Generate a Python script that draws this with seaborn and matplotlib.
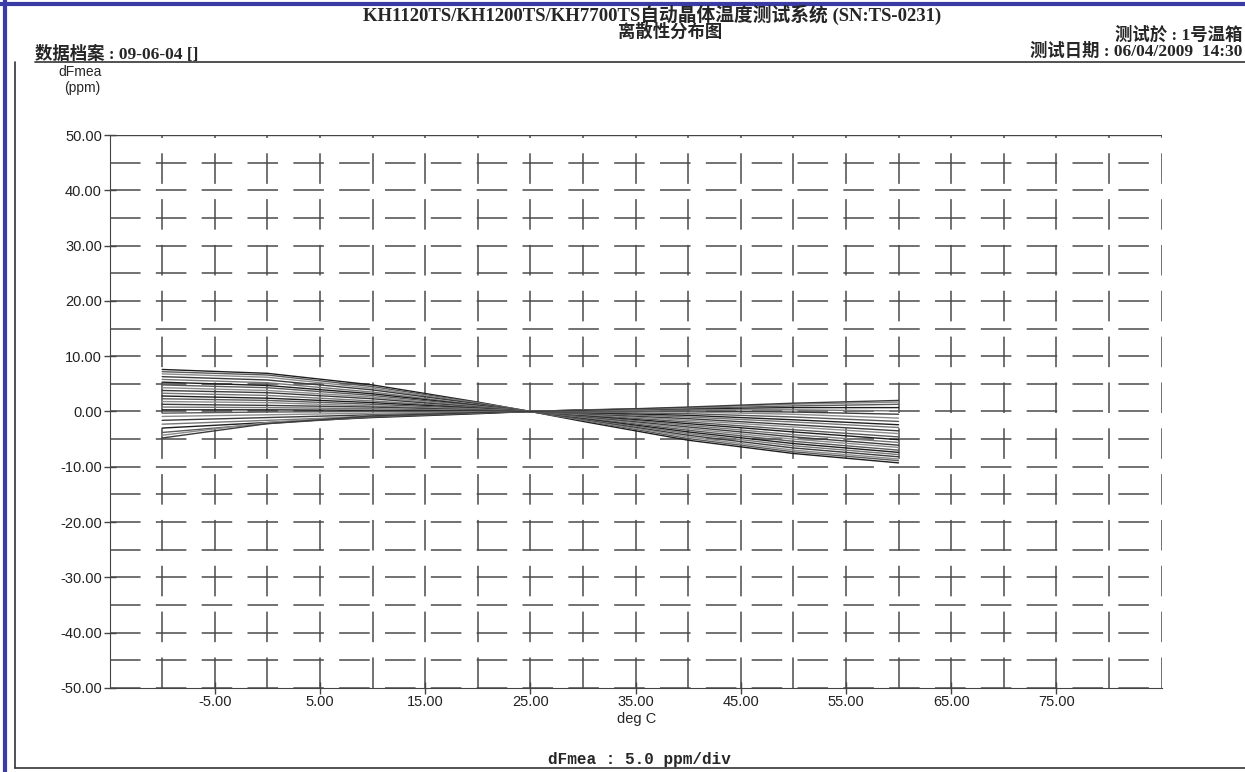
import numpy as np
import pandas as pd
import matplotlib
matplotlib.use('Agg')
import matplotlib.pyplot as plt
from matplotlib.lines import Line2D
import seaborn as sns

# temperature points of each sweep (deg C)
temps = [-10, 0, 10, 20, 25, 30, 40, 50, 60]

# dFmea (ppm) per crystal
curves = [
    [7.6, 6.9, 4.8, 1.7, 0, -1.8, -5.2, -7.6, -9.3],
    [7.2, 6.6, 4.5, 1.6, 0, -1.6, -4.9, -7.3, -8.9],
    [6.8, 6.2, 4.2, 1.5, 0, -1.5, -4.6, -7.0, -8.6],
    [6.3, 5.7, 3.9, 1.4, 0, -1.4, -4.3, -6.6, -8.2],
    [5.8, 5.2, 3.5, 1.2, 0, -1.3, -4.0, -6.2, -7.8],
    [5.3, 4.7, 3.2, 1.1, 0, -1.2, -3.7, -5.8, -7.4],
    [4.8, 4.3, 2.9, 1.0, 0, -1.1, -3.4, -5.4, -7.0],
    [4.3, 3.8, 2.6, 0.9, 0, -1.0, -3.1, -5.0, -6.5],
    [3.8, 3.4, 2.3, 0.8, 0, -0.9, -2.8, -4.6, -6.1],
    [3.3, 2.9, 1.9, 0.7, 0, -0.8, -2.5, -4.2, -5.6],
    [2.8, 2.4, 1.6, 0.6, 0, -0.7, -2.2, -3.7, -5.1],
    [2.3, 2.0, 1.3, 0.5, 0, -0.6, -1.9, -3.3, -4.6],
    [1.8, 1.6, 1.0, 0.4, 0, -0.5, -1.6, -2.8, -4.0],
    [1.3, 1.1, 0.8, 0.3, 0, -0.4, -1.3, -2.4, -3.5],
    [0.8, 0.7, 0.5, 0.2, 0, -0.3, -1.0, -1.9, -2.9],
    [0.3, 0.3, 0.2, 0.1, 0, -0.2, -0.7, -1.5, -2.4],
    [-0.3, -0.1, 0.0, 0.0, 0, -0.1, -0.4, -1.0, -1.8],
    [-0.9, -0.6, -0.3, -0.1, 0, 0.0, -0.1, -0.5, -1.2],
    [-1.6, -1.1, -0.6, -0.2, 0, 0.1, 0.1, -0.1, -0.5],
    [-2.3, -1.6, -0.9, -0.3, 0, 0.2, 0.3, 0.3, 0.1],
    [-3.0, -2.0, -1.1, -0.4, 0, 0.3, 0.5, 0.7, 0.7],
    [-3.8, -2.2, -1.0, -0.3, 0, 0.3, 0.6, 1.0, 1.3],
    [-4.3, -2.0, -0.7, -0.2, 0, 0.2, 0.7, 1.3, 1.7],
    [-4.8, -2.2, -0.8, -0.2, 0, 0.2, 0.8, 1.5, 2.0],
]

x_labels = [-5, 5, 15, 25, 35, 45, 55, 65, 75]
y_labels = [-50, -40, -30, -20, -10, 0, 10, 20, 30, 40, 50]

title1 = 'KH1120TS/KH1200TS/KH7700TS自动晶体温度测试系统 (SN:TS-0231)'
title2 = '离散性分布图'
file_txt = '数据档案 : 09-06-04 []'
oven_txt = '测试於 : 1号温箱'
date_txt = '测试日期 : 06/04/2009  14:30'

rows = []
for i, c in enumerate(curves):
    for t, v in zip(temps, c):
        rows.append({'unit': i, 'temp': t, 'dfmea': v})
df = pd.DataFrame(rows)

sns.set_style('white')
plt.rcParams['font.family'] = ['Liberation Sans', 'Noto Sans CJK SC']

fig = plt.figure(figsize=(12.45, 7.72), dpi=100)
ax = fig.add_axes([0.088, 0.109, 0.845, 0.716])

grays = ['#1e1e1e', '#5a5a5a', '#8c8c8c', '#3c3c3c', '#777777']
pal = [grays[i % len(grays)] for i in range(len(curves))]
sns.lineplot(data=df, x='temp', y='dfmea', hue='unit', units='unit', estimator=None,
             palette=pal, lw=1.0, ax=ax, legend=False, zorder=3)

ax.set_xlim(-15, 85)
ax.set_ylim(-50, 50)
ax.set_xticks(x_labels)
ax.set_xticklabels([f'{v:.2f}' for v in x_labels], fontsize=10.5)
ax.set_yticks(y_labels)
ax.set_yticklabels([f'{v:.2f}' for v in y_labels], fontsize=10.5)
ax.set_xticks([v for v in range(-15, 90, 5) if v not in x_labels], minor=True)
ax.set_yticks([v for v in range(-45, 50, 10)], minor=True)
ax.tick_params(which='major', direction='inout', length=9, width=1, color='#444444',
               bottom=True, left=True, pad=1, labelcolor='#222222')
ax.tick_params(which='minor', length=0)

ax.grid(True, which='both', color='#4a4a4a', lw=1.1, ls=(0, (20, 10)))
for sp in ['right', 'top']:
    ax.spines[sp].set_visible(False)
ax.spines['left'].set_color('#444444')
ax.spines['bottom'].set_color('#444444')
ax.axhline(50, color='#444444', lw=1)
ax.set_xlabel('')
ax.set_ylabel('')

# texts
serif = ['Liberation Serif', 'Noto Sans CJK SC']
fig.text(0.524, 0.981, title1, ha='center', va='center', fontsize=13.5,
         fontweight='bold', family=serif)
fig.text(0.538, 0.958, title2, ha='center', va='center', fontsize=12.5,
         fontweight='bold', family=serif)
fig.text(0.028, 0.929, file_txt, ha='left', va='center', fontsize=12.5,
         fontweight='bold', family=serif)
fig.text(0.998, 0.955, oven_txt, ha='right', va='center', fontsize=12.5,
         fontweight='bold', family=serif)
fig.text(0.998, 0.933, date_txt, ha='right', va='center', fontsize=12.5,
         fontweight='bold', family=serif)
fig.text(0.064, 0.907, 'dFmea', ha='center', va='center', fontsize=10)
fig.text(0.066, 0.886, '(ppm)', ha='center', va='center', fontsize=10)
fig.text(0.511, 0.069, 'deg C', ha='center', va='center', fontsize=10.5)
fig.text(0.514, 0.016, 'dFmea : 5.0 ppm/div', ha='center', va='center',
         fontsize=11.5, fontweight='bold', family=['Liberation Mono'])

# page frame
fig.add_artist(Line2D([0.028, 1.0], [0.920, 0.920], color='#333333', lw=1.2))
fig.add_artist(Line2D([0.012, 0.012], [0.920, 0.005], color='#333333', lw=1.2))
fig.add_artist(Line2D([0.012, 1.0], [0.005, 0.005], color='#333333', lw=1.2))
fig.add_artist(Line2D([0.0, 1.0], [0.995, 0.995], color='#3b3ba5', lw=3))
fig.add_artist(Line2D([0.004, 0.004], [0.0, 1.0], color='#3b3ba5', lw=3))

fig.savefig('out.png', dpi=100)
